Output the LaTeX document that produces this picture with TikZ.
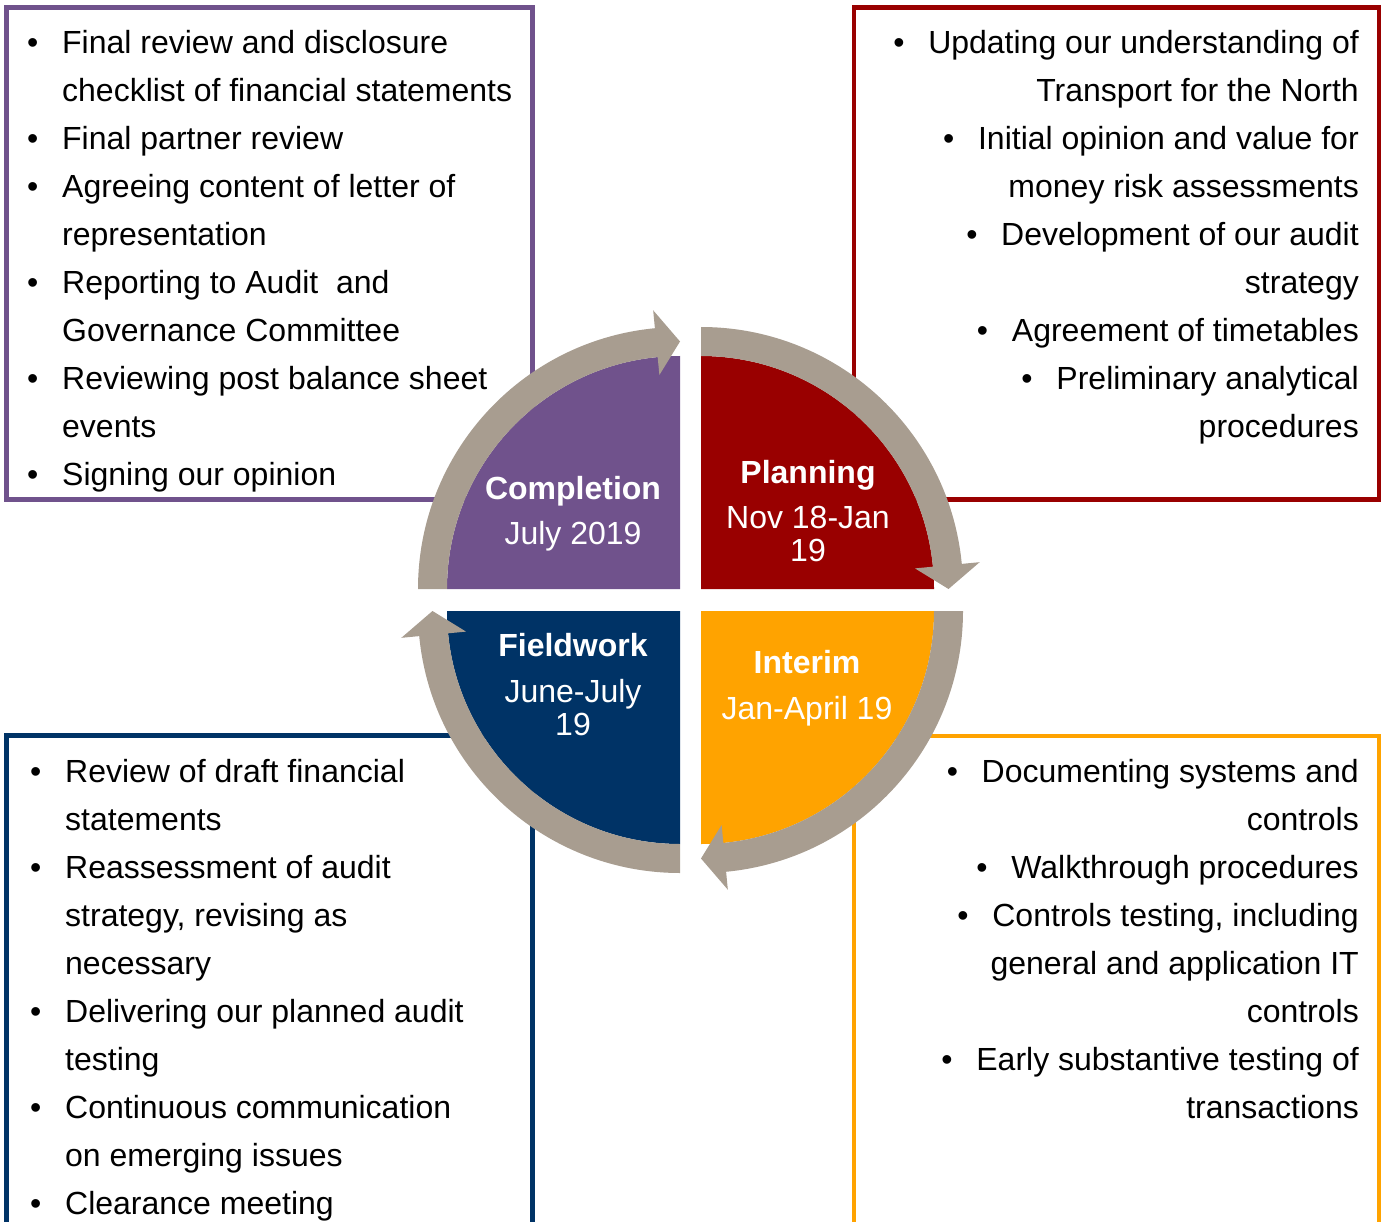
\documentclass[tikz,border=0pt]{standalone}
\usepackage{fontspec}
\setmainfont{Liberation Sans}

\definecolor{comppurple}{RGB}{112,82,140}
\definecolor{planred}{RGB}{153,0,0}
\definecolor{fieldnavy}{RGB}{0,51,102}
\definecolor{interorange}{RGB}{255,163,0}
\definecolor{ringgrey}{RGB}{168,157,144}

\newcommand{\itembul}{\makebox[35pt][l]{\textbullet}}
% corner, start angle, end angle (clockwise)
\newcommand{\ringarrow}[3]{\fill[ring, shift={#1}] (#2:262pt) arc[start angle=#2, end angle=#3+5.5, radius=262pt] -- ({#3+5.5}:280pt) -- (#3:247.5pt) -- ({#3+5.5}:215pt) -- ({#3+5.5}:233pt) arc[start angle=#3+5.5, end angle=#2, radius=233pt] -- cycle;}

\begin{document}
\begin{tikzpicture}
[every node/.style={inner sep=0pt, font=\fontsize{32}{38}\selectfont},
 listbox/.style={line width=4.5pt},
 list/.style={anchor=base west, text=black},
 rlist/.style={anchor=base east, text=black},
 phase/.style={anchor=base, text=white},
 ring/.style={fill=ringgrey}]
\clip (0pt,0pt) rectangle (1381pt,-1222pt);
% boxes
\draw [listbox, draw=comppurple] (6.5pt,-7.5pt) rectangle (532.5pt,-499.5pt);
\draw [listbox, draw=planred] (854pt,-7.5pt) rectangle (1379pt,-499.5pt);
\draw [listbox, draw=fieldnavy] (6.5pt,-735.5pt) rectangle (532.5pt,-1240pt);
\draw [listbox, draw=interorange] (854pt,-736pt) rectangle (1379pt,-1240pt);
% quarters
\fill [comppurple] (680pt,-589pt) -- ++(-233pt,0pt) arc[start angle=180, end angle=90, radius=233pt] -- cycle;
\fill [planred] (701pt,-589pt) -- ++(0pt,233pt) arc[start angle=90, end angle=0, radius=233pt] -- cycle;
\fill [interorange] (701pt,-611pt) -- ++(233pt,0pt) arc[start angle=0, end angle=-90, radius=233pt] -- cycle;
\fill [fieldnavy] (680pt,-611pt) -- ++(0pt,-233pt) arc[start angle=-90, end angle=-180, radius=233pt] -- cycle;
% ring arrows
\ringarrow{(680pt,-589pt)}{180}{90}
\ringarrow{(701pt,-589pt)}{90}{0}
\ringarrow{(701pt,-611pt)}{0}{-90}
\ringarrow{(680pt,-611pt)}{-90}{-180}
% phase labels
\node (comp) [phase] at (573pt,-499pt) {\textbf{Completion}};
\node (compdate) [phase] at (573pt,-544pt) {July 2019};
\node (plan) [phase] at (808pt,-483.5pt) {\textbf{Planning}};
\node (plandate) [phase] at (808pt,-528.5pt) {Nov 18-Jan};
\node (plandate2) [phase] at (808pt,-561pt) {19};
\node (field) [phase] at (573pt,-656.5pt) {\textbf{Fieldwork}};
\node (fielddate) [phase] at (573pt,-702.5pt) {June-July};
\node (fielddate2) [phase] at (573pt,-735pt) {19};
\node (inter) [phase] at (807pt,-673pt) {\textbf{Interim}};
\node (interdate) [phase] at (807pt,-719pt) {Jan-April 19};
% completion list
\node (c1) [list] at (27pt,-53.3pt) {\itembul Final review and disclosure};
\node (c2) [list] at (62pt,-101.3pt) {checklist of financial statements};
\node (c3) [list] at (27pt,-149.3pt) {\itembul Final partner review};
\node (c4) [list] at (27pt,-197.3pt) {\itembul Agreeing content of letter of};
\node (c5) [list] at (62pt,-245.3pt) {representation};
\node (c6) [list] at (27pt,-293.3pt) {\itembul Reporting to Audit\ \ and};
\node (c7) [list] at (62pt,-341.3pt) {Governance Committee};
\node (c8) [list] at (27pt,-389.3pt) {\itembul Reviewing post balance sheet};
\node (c9) [list] at (62pt,-437.3pt) {events};
\node (c10) [list] at (27pt,-485.3pt) {\itembul Signing our opinion};
% planning list
\node (p1) [rlist] at (1359pt,-53.5pt) {\itembul Updating our understanding of};
\node (p2) [rlist] at (1359pt,-101.5pt) {Transport for the North};
\node (p3) [rlist] at (1359pt,-149.5pt) {\itembul Initial opinion and value for};
\node (p4) [rlist] at (1359pt,-197.5pt) {money risk assessments};
\node (p5) [rlist] at (1359pt,-245.5pt) {\itembul Development of our audit};
\node (p6) [rlist] at (1359pt,-293.5pt) {strategy};
\node (p7) [rlist] at (1359pt,-341.5pt) {\itembul Agreement of timetables};
\node (p8) [rlist] at (1359pt,-389.5pt) {\itembul Preliminary analytical};
\node (p9) [rlist] at (1359pt,-437.5pt) {procedures};
% fieldwork list
\node (f1) [list] at (30pt,-782.5pt) {\itembul Review of draft financial};
\node (f2) [list] at (65pt,-830.5pt) {statements};
\node (f3) [list] at (30pt,-878.5pt) {\itembul Reassessment of audit};
\node (f4) [list] at (65pt,-926.5pt) {strategy, revising as};
\node (f5) [list] at (65pt,-974.5pt) {necessary};
\node (f6) [list] at (30pt,-1022.5pt) {\itembul Delivering our planned audit};
\node (f7) [list] at (65pt,-1070.5pt) {testing};
\node (f8) [list] at (30pt,-1118.5pt) {\itembul Continuous communication};
\node (f9) [list] at (65pt,-1166.5pt) {on emerging issues};
\node (f10) [list] at (30pt,-1214.5pt) {\itembul Clearance meeting};
% interim list
\node (i1) [rlist] at (1359pt,-782.5pt) {\itembul Documenting systems and};
\node (i2) [rlist] at (1359pt,-830.5pt) {controls};
\node (i3) [rlist] at (1359pt,-878.5pt) {\itembul Walkthrough procedures};
\node (i4) [rlist] at (1359pt,-926.5pt) {\itembul Controls testing, including};
\node (i5) [rlist] at (1359pt,-974.5pt) {general and application IT};
\node (i6) [rlist] at (1359pt,-1022.5pt) {controls};
\node (i7) [rlist] at (1359pt,-1070.5pt) {\itembul Early substantive testing of};
\node (i8) [rlist] at (1359pt,-1118.5pt) {transactions};
\end{tikzpicture}
\end{document}
